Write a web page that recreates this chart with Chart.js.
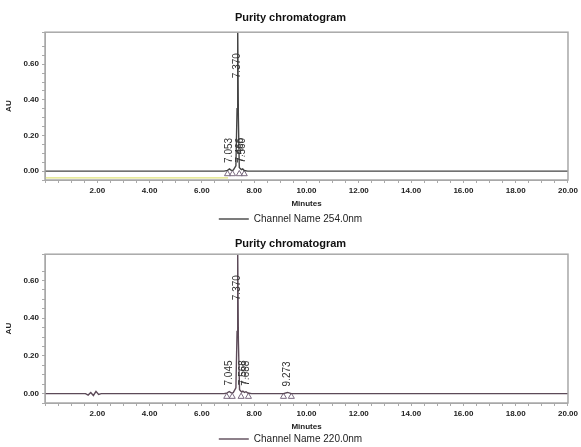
<!DOCTYPE html>
<html>
<head>
<meta charset="utf-8">
<script src="https://cdn.jsdelivr.net/npm/chart.js@4.4.0/dist/chart.umd.min.js"></script>
<style>
    html, body { margin: 0; padding: 0; background: #fff; width: 581px; height: 447px; overflow: hidden; }
    canvas { position: absolute; left: 0; }
    #chart254 { top: 0; }
    #chart220 { top: 226px; }
</style>
</head>
<body>
<canvas id="chart254" width="581" height="234"></canvas>
<canvas id="chart220" width="581" height="228"></canvas>
<script>
// 254 nm 通道數據 (分鐘, AU)
const minutes254 = [0, 6.85, 6.98, 7.053, 7.12, 7.2, 7.3, 7.345, 7.370, 7.395, 7.43, 7.466, 7.51, 7.56, 7.62, 7.75, 20];
const au254      = [0, 0, 0.004, 0.012, 0.004, 0.005, 0.03, 0.35, 0.80, 0.30, 0.02, 0.014, 0.008, 0.012, 0.003, 0, 0];
const peakTimes254 = [7.053, 7.370, 7.466, 7.560];
const peakAU254    = [0.012, 0.80, 0.014, 0.012];
const peakNames254 = ['7.053', '7.370', '7.466', '7.560'];
const markTimes254 = [6.98, 7.17, 7.43, 7.62];
const yellowTimes  = [0, 7.0];
const yellowAU     = [-0.038, -0.038];

// 220 nm 通道數據
const minutes220 = [0, 1.55, 1.65, 1.75, 1.85, 1.95, 2.05, 2.15, 6.85, 6.97, 7.045, 7.12, 7.2, 7.3, 7.345, 7.370, 7.395, 7.44, 7.52, 7.568, 7.63, 7.688, 7.76, 7.9, 9.12, 9.273, 9.42, 20];
const au220      = [0, 0, -0.008, 0.006, -0.01, 0.012, -0.004, 0, 0, 0.004, 0.011, 0.004, 0.005, 0.03, 0.33, 0.75, 0.28, 0.02, 0.008, 0.013, 0.006, 0.01, 0.003, 0, 0, 0.006, 0, 0];
const peakTimes220 = [7.045, 7.370, 7.568, 7.688, 9.273];
const peakAU220    = [0.011, 0.75, 0.013, 0.010, 0.006];
const peakNames220 = ['7.045', '7.370', '7.568', '7.688', '9.273'];
const markTimes220 = [6.95, 7.16, 7.5, 7.78, 9.12, 9.42];

const xTickStep = 0.5;
const yTickStep = 0.05;

const FONT = '"Liberation Sans", Arial, sans-serif';

function pairs(xs, ys) {
    return xs.map((x, i) => ({ x: x, y: ys[i] }));
}

// 畫外框及峰值標籤
const chromPlugin = {
    id: 'chrom',
    afterDatasetsDraw(chart, args, opts) {
        const ctx = chart.ctx;
        const a = chart.chartArea;
        const xs = chart.scales.x;
        const ys = chart.scales.y;
        ctx.save();
        ctx.strokeStyle = '#a8a8a8';
        ctx.lineWidth = 1.5;
        ctx.strokeRect(a.left, a.top, a.right - a.left, a.bottom - a.top);

        ctx.font = '10px ' + FONT;
        ctx.fillStyle = '#333';
        ctx.textAlign = 'left';
        ctx.textBaseline = 'middle';
        opts.times.forEach((t, i) => {
            const px = xs.getPixelForValue(t);
            let py = ys.getPixelForValue(opts.heights[i]) - 6;
            if (py < a.top + 60) py = a.top + 46;
            ctx.save();
            ctx.translate(px, py);
            ctx.rotate(-Math.PI / 2);
            ctx.fillText(opts.names[i], 0, 0);
            ctx.restore();
        });
        ctx.restore();
    }
};

function makeChart(id, cfg) {
    const datasets = [{
        label: cfg.name,
        data: pairs(cfg.minutes, cfg.au),
        borderColor: cfg.color,
        borderWidth: 1.4,
        pointRadius: 0,
        tension: 0
    }, {
        label: 'marks',
        data: cfg.marks.map(t => ({ x: t, y: -0.016 })),
        showLine: false,
        pointStyle: 'triangle',
        pointRadius: 3.5,
        borderColor: '#7a6a80',
        borderWidth: 1,
        backgroundColor: 'rgba(0,0,0,0)'
    }];
    if (cfg.yellow) {
        datasets.push({
            label: 'yellow',
            data: pairs(yellowTimes, yellowAU),
            borderColor: '#dfe37a',
            borderWidth: 1.2,
            pointRadius: 0
        });
    }

    return new Chart(document.getElementById(id).getContext('2d'), {
        type: 'line',
        data: { datasets: datasets },
        plugins: [chromPlugin],
        options: {
            responsive: false,
            animation: false,
            layout: { padding: { left: 0, right: 0, top: 0, bottom: 0 } },
            plugins: {
                title: {
                    display: true,
                    text: 'Purity chromatogram',
                    color: '#111',
                    font: { family: FONT, size: 11, weight: 'bold' },
                    padding: { top: cfg.titleTop, bottom: cfg.titleBottom }
                },
                legend: {
                    position: 'bottom',
                    labels: {
                        filter: item => item.datasetIndex === 0,
                        usePointStyle: true,
                        pointStyle: 'line',
                        pointStyleWidth: 30,
                        color: '#222',
                        padding: cfg.legendPad,
                        font: { family: FONT, size: 10 }
                    }
                },
                tooltip: { enabled: false },
                chrom: { times: cfg.peakTimes, heights: cfg.peakAU, names: cfg.peakNames }
            },
            scales: {
                x: {
                    type: 'linear',
                    min: 0,
                    max: 20,
                    afterFit: s => { s.height = cfg.xHeight; },
                    ticks: {
                        stepSize: xTickStep,
                        autoSkip: false,
                        maxRotation: 0,
                        padding: 3,
                        color: '#222',
                        font: { family: FONT, size: 8, weight: 'bold' },
                        callback: v => (v > 0 && Math.abs(v / 2 - Math.round(v / 2)) < 1e-6) ? v.toFixed(2) : ''
                    },
                    grid: { drawOnChartArea: false, tickLength: 3, color: '#aaa' },
                    border: { color: '#a8a8a8' },
                    title: {
                        display: true,
                        text: 'Minutes',
                        color: '#222',
                        padding: { top: 0, bottom: 0 },
                        font: { family: FONT, size: 8, weight: 'bold' }
                    }
                },
                y: {
                    min: -0.05,
                    max: cfg.yMax,
                    afterFit: s => { s.width = 45; },
                    ticks: {
                        stepSize: yTickStep,
                        autoSkip: false,
                        padding: 3,
                        color: '#222',
                        font: { family: FONT, size: 8, weight: 'bold' },
                        callback: v => (v >= -1e-9 && Math.abs(v / 0.2 - Math.round(v / 0.2)) < 1e-6) ? Math.abs(v).toFixed(2) : ''
                    },
                    grid: { drawOnChartArea: false, tickLength: 3, color: '#aaa' },
                    border: { color: '#a8a8a8' },
                    title: {
                        display: true,
                        text: 'AU',
                        color: '#222',
                        padding: { top: 4, bottom: 0 },
                        font: { family: FONT, size: 8, weight: 'bold' }
                    }
                }
            }
        }
    });
}

makeChart('chart254', {
    name: 'Channel Name 254.0nm',
    minutes: minutes254, au: au254, color: '#444',
    marks: markTimes254, yellow: true,
    peakTimes: peakTimes254, peakAU: peakAU254, peakNames: peakNames254,
    yMax: 0.78, titleTop: 11, titleBottom: 8, xHeight: 29, legendPad: 5
});

makeChart('chart220', {
    name: 'Channel Name 220.0nm',
    minutes: minutes220, au: au220, color: '#5c4a58',
    marks: markTimes220, yellow: false,
    peakTimes: peakTimes220, peakAU: peakAU220, peakNames: peakNames220,
    yMax: 0.74, titleTop: 11, titleBottom: 4, xHeight: 29, legendPad: 2
});
</script>
</body>
</html>
